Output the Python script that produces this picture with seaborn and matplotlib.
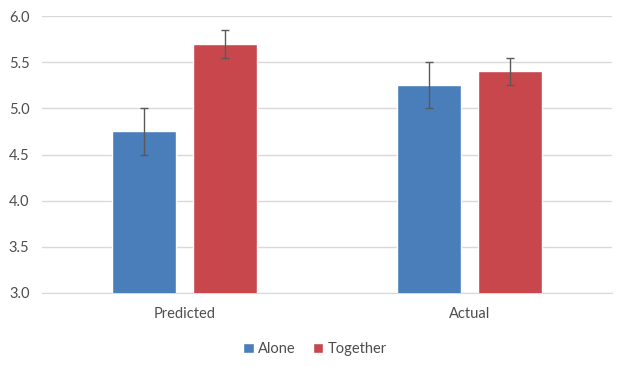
import pandas as pd
import numpy as np
import matplotlib.pyplot as plt
import seaborn as sns
from matplotlib.patches import Patch

# values
conditions = ['Predicted', 'Actual']
groups = ['Alone', 'Together']
alone_means = [4.75, 5.25]
together_means = [5.70, 5.40]
alone_err = [0.25, 0.25]
together_err = [0.15, 0.15]
colors = ['#4A7EBB', '#C8474D']

df = pd.DataFrame({
    'condition': conditions * 2,
    'group': ['Alone'] * 2 + ['Together'] * 2,
    'score': alone_means + together_means,
})
errs = {'Alone': alone_err, 'Together': together_err}

sns.set_style('white')
plt.rcParams['font.family'] = ['Lato', 'DejaVu Sans']

fig = plt.figure(figsize=(6.3, 3.67), dpi=100)
ax = fig.add_axes([42 / 630, 1 - 293 / 367, 570 / 630, 277 / 367])

sns.barplot(data=df, x='condition', y='score', hue='group', order=conditions,
            hue_order=groups, palette=colors, saturation=1, width=0.568, gap=0.21,
            errorbar=None, legend=False, ax=ax, zorder=3)

# error bars on top of each bar
for cont, g in zip(ax.containers, groups):
    xs = [p.get_x() + p.get_width() / 2 for p in cont]
    ys = [p.get_height() + p.get_y() for p in cont]
    ax.errorbar(xs, ys, yerr=errs[g], fmt='none', ecolor='#595959',
                elinewidth=1, capsize=3, capthick=1, zorder=4)

ax.set_ylim(3.0, 6.0)
ax.set_xlim(-0.5, 1.5)
ax.set_yticks(np.arange(3.0, 6.01, 0.5))
ax.set_yticklabels([f'{v:.1f}' for v in np.arange(3.0, 6.01, 0.5)])
ax.yaxis.grid(True, color='#D9D9D9', linewidth=1, zorder=0)
ax.set_axisbelow(True)
for s in ['top', 'right', 'left']:
    ax.spines[s].set_visible(False)
ax.spines['bottom'].set_color('#D9D9D9')
ax.tick_params(axis='both', length=0, labelsize=10.5, labelcolor='#4D4D4D')
ax.tick_params(axis='y', pad=9)
ax.tick_params(axis='x', pad=10)
ax.set_xlabel('')
ax.set_ylabel('')

handles = [Patch(facecolor=c, label=g) for c, g in zip(colors, groups)]
fig.legend(handles=handles, loc='center', bbox_to_anchor=(0.5, 1 - 349 / 367),
           ncol=2, frameon=False, handlelength=0.7, handleheight=0.7,
           handletextpad=0.3, columnspacing=1.2, fontsize=10.5, labelcolor='#4D4D4D')

fig.savefig('out.png', dpi=100)
